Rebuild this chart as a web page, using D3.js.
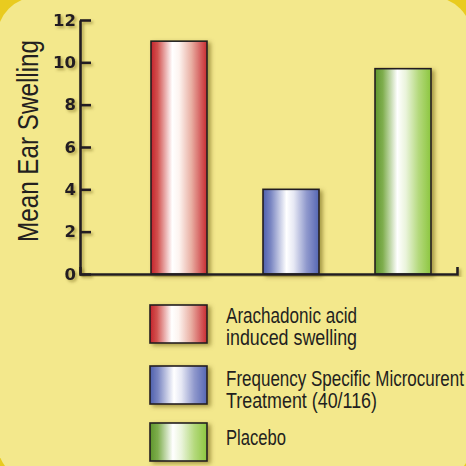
<!DOCTYPE html>
<html><head><meta charset="utf-8">
<script src="https://cdn.jsdelivr.net/npm/d3@7"></script>
<style>html,body{margin:0;padding:0;background:#E9CB1F;}svg{display:block;}</style>
</head><body>
<svg id="c" width="466" height="466"></svg>
<script>
const categories = ["Arachadonic acid induced swelling", "Frequency Specific Microcurent Treatment (40/116)", "Placebo"];
const values = [11, 4, 9.7];
const legendLines = [["Arachadonic acid", "induced swelling"], ["Frequency Specific Microcurent", "Treatment (40/116)"], ["Placebo"]];
const yTicks = [0, 2, 4, 6, 8, 10, 12];
const yTitle = "Mean Ear Swelling";

// styles
const gradStops = [
  [["0%","#C4222C"],["12%","#D2524F"],["38%","#FFFFFF"],["50%","#FDF4F0"],["72%","#E9AFA3"],["100%","#C82A31"]],
  [["0%","#4E60AE"],["14%","#7A86C2"],["42%","#FFFFFF"],["55%","#E6E8F4"],["78%","#8F98CC"],["100%","#5566B3"]],
  [["0%","#5F962C"],["14%","#7FAE4E"],["40%","#FFFFFF"],["55%","#EAF4DB"],["78%","#B4D97C"],["100%","#8CC63F"]]
];
const ink = "#231F20";

const svg = d3.select("#c");
const defs = svg.append("defs");
const sh = defs.append("filter").attr("id","sh").attr("x","-30%").attr("y","-30%").attr("width","160%").attr("height","160%");
sh.append("feDropShadow").attr("dx",3).attr("dy",2).attr("stdDeviation",2).attr("flood-color","#5a4800").attr("flood-opacity",0.5);
const sh2 = defs.append("filter").attr("id","sh2").attr("x","-30%").attr("y","-30%").attr("width","160%").attr("height","160%");
sh2.append("feDropShadow").attr("dx",2).attr("dy",2).attr("stdDeviation",1.6).attr("flood-color","#5a4800").attr("flood-opacity",0.45);

gradStops.forEach((stops,i)=>{
  const g = defs.append("linearGradient").attr("id","g"+i).attr("x1","0%").attr("x2","100%").attr("y1","0%").attr("y2","0%");
  stops.forEach(s=>g.append("stop").attr("offset",s[0]).attr("stop-color",s[1]));
});

// background panel
svg.append("rect").attr("x",-3).attr("y",-3).attr("width",475).attr("height",485).attr("rx",40).attr("fill","#F3E88C");

const x = d3.scaleBand().domain(categories).range([80,457]).paddingInner(0.5).paddingOuter(0.433).align(0.732);
const y = d3.scaleLinear().domain([0,12]).range([274,20]);

// bars
svg.append("g").selectAll("rect").data(categories).join("rect")
  .attr("x", d=>x(d)).attr("y", (d,i)=>y(values[i]))
  .attr("width", x.bandwidth()).attr("height", (d,i)=>y(0)-y(values[i]))
  .attr("fill",(d,i)=>`url(#g${i})`).attr("stroke",ink).attr("stroke-width",1.6)
  .attr("filter","url(#sh)");

// y axis
const ya = svg.append("g").attr("transform","translate(80,0)").attr("filter","url(#sh2)")
  .call(d3.axisLeft(y).tickValues(yTicks).tickSizeInner(-11).tickSizeOuter(0).tickPadding(4));
ya.selectAll("path,line").attr("stroke",ink).attr("stroke-width",2.6);
ya.selectAll("text").attr("fill",ink).attr("font-family","DejaVu Sans").attr("font-weight","bold").attr("font-size",16.5);

// x axis
const xa = svg.append("g").attr("transform","translate(0,274)").attr("filter","url(#sh2)")
  .call(d3.axisBottom(x).tickSizeInner(0).tickSizeOuter(-7).tickFormat(""));
xa.selectAll(".tick").remove();
xa.select(".domain").attr("stroke",ink).attr("stroke-width",2.6);

// y title
svg.append("text").attr("transform","translate(38,141) rotate(-90)")
  .attr("text-anchor","middle").attr("font-family","Liberation Sans Narrow, sans-serif")
  .attr("font-size",29).attr("fill",ink).attr("textLength",202).attr("lengthAdjust","spacingAndGlyphs")
  .text(yTitle);

// legend
const legTop = [305,366,423];
const legFirst = [323,386,445];
const legW = [[131,131],[238,151],[60]];
const lg = svg.append("g");
categories.forEach((c,i)=>{
  lg.append("rect").attr("x",150).attr("y",legTop[i]).attr("width",57).attr("height",38)
    .attr("fill",`url(#g${i})`).attr("stroke",ink).attr("stroke-width",1.6).attr("filter","url(#sh)");
  legendLines[i].forEach((t,j)=>{
    lg.append("text").attr("x",226).attr("y",legFirst[i]+j*22)
      .attr("font-family","Liberation Sans Narrow, sans-serif").attr("font-size",22).attr("fill",ink)
      .attr("textLength",legW[i][j]).attr("lengthAdjust","spacingAndGlyphs").text(t);
  });
});
</script>
</body></html>
